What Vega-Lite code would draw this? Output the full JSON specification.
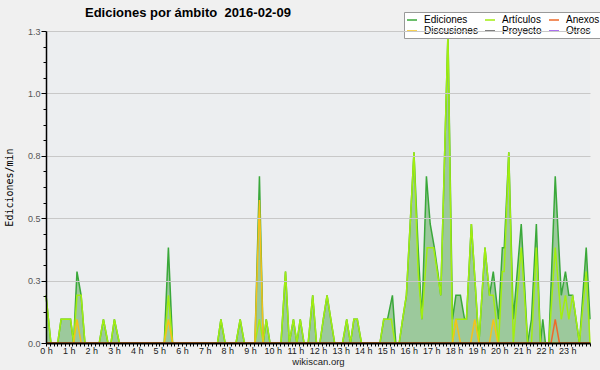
{
  "$schema": "https://vega.github.io/schema/vega-lite/v6.json",
  "width": 544,
  "height": 312,
  "autosize": {"type": "none"},
  "padding": {"left": 46, "top": 31, "right": 10, "bottom": 27},
  "background": "#f0f0f0",
  "title": {"text": "Ediciones por ámbito \u00a02016-02-09", "anchor": "start", "frame": "group", "dx": 39, "offset": -8, "font": "Liberation Sans", "fontSize": 13, "fontWeight": "bold", "color": "#000000"},
  "config": {"view": {"fill": "#eceef0", "stroke": null}},
  "datasets": {
    "main": [
      {"m": 0, "v": 0.191, "s": "Ediciones"}, {"m": 13, "v": 0, "s": "Ediciones"}, {"m": 31, "v": 0, "s": "Ediciones"}, {"m": 40, "v": 0.095, "s": "Ediciones"}, {"m": 65, "v": 0.095, "s": "Ediciones"}, {"m": 73, "v": 0, "s": "Ediciones"}, {"m": 82, "v": 0.286, "s": "Ediciones"}, {"m": 93, "v": 0.191, "s": "Ediciones"}, {"m": 103, "v": 0, "s": "Ediciones"}, {"m": 141, "v": 0, "s": "Ediciones"}, {"m": 152, "v": 0.095, "s": "Ediciones"}, {"m": 164, "v": 0, "s": "Ediciones"}, {"m": 172, "v": 0, "s": "Ediciones"}, {"m": 181, "v": 0.095, "s": "Ediciones"}, {"m": 194, "v": 0, "s": "Ediciones"}, {"m": 313, "v": 0, "s": "Ediciones"}, {"m": 324, "v": 0.382, "s": "Ediciones"}, {"m": 335, "v": 0, "s": "Ediciones"}, {"m": 454, "v": 0, "s": "Ediciones"}, {"m": 463, "v": 0.095, "s": "Ediciones"}, {"m": 474, "v": 0, "s": "Ediciones"}, {"m": 503, "v": 0, "s": "Ediciones"}, {"m": 514, "v": 0.095, "s": "Ediciones"}, {"m": 525, "v": 0, "s": "Ediciones"}, {"m": 553, "v": 0, "s": "Ediciones"}, {"m": 565, "v": 0.668, "s": "Ediciones"}, {"m": 575, "v": 0, "s": "Ediciones"}, {"m": 583, "v": 0.095, "s": "Ediciones"}, {"m": 593, "v": 0, "s": "Ediciones"}, {"m": 622, "v": 0, "s": "Ediciones"}, {"m": 634, "v": 0.286, "s": "Ediciones"}, {"m": 644, "v": 0, "s": "Ediciones"}, {"m": 655, "v": 0.095, "s": "Ediciones"}, {"m": 664, "v": 0, "s": "Ediciones"}, {"m": 673, "v": 0.095, "s": "Ediciones"}, {"m": 683, "v": 0, "s": "Ediciones"}, {"m": 694, "v": 0, "s": "Ediciones"}, {"m": 706, "v": 0.191, "s": "Ediciones"}, {"m": 716, "v": 0, "s": "Ediciones"}, {"m": 725, "v": 0, "s": "Ediciones"}, {"m": 734, "v": 0.095, "s": "Ediciones"}, {"m": 744, "v": 0.191, "s": "Ediciones"}, {"m": 754, "v": 0.095, "s": "Ediciones"}, {"m": 764, "v": 0, "s": "Ediciones"}, {"m": 785, "v": 0, "s": "Ediciones"}, {"m": 796, "v": 0.095, "s": "Ediciones"}, {"m": 806, "v": 0, "s": "Ediciones"}, {"m": 815, "v": 0.095, "s": "Ediciones"}, {"m": 824, "v": 0.095, "s": "Ediciones"}, {"m": 835, "v": 0, "s": "Ediciones"}, {"m": 884, "v": 0, "s": "Ediciones"}, {"m": 894, "v": 0.095, "s": "Ediciones"}, {"m": 904, "v": 0.095, "s": "Ediciones"}, {"m": 917, "v": 0.191, "s": "Ediciones"}, {"m": 926, "v": 0, "s": "Ediciones"}, {"m": 935, "v": 0, "s": "Ediciones"}, {"m": 944, "v": 0.095, "s": "Ediciones"}, {"m": 954, "v": 0.191, "s": "Ediciones"}, {"m": 964, "v": 0.477, "s": "Ediciones"}, {"m": 974, "v": 0.764, "s": "Ediciones"}, {"m": 985, "v": 0.382, "s": "Ediciones"}, {"m": 995, "v": 0.095, "s": "Ediciones"}, {"m": 1007, "v": 0.668, "s": "Ediciones"}, {"m": 1017, "v": 0.477, "s": "Ediciones"}, {"m": 1028, "v": 0.382, "s": "Ediciones"}, {"m": 1037, "v": 0.286, "s": "Ediciones"}, {"m": 1045, "v": 0.191, "s": "Ediciones"}, {"m": 1064, "v": 1.241, "s": "Ediciones"}, {"m": 1076, "v": 0.095, "s": "Ediciones"}, {"m": 1085, "v": 0.191, "s": "Ediciones"}, {"m": 1097, "v": 0.191, "s": "Ediciones"}, {"m": 1108, "v": 0.095, "s": "Ediciones"}, {"m": 1113, "v": 0.095, "s": "Ediciones"}, {"m": 1126, "v": 0.477, "s": "Ediciones"}, {"m": 1146, "v": 0, "s": "Ediciones"}, {"m": 1162, "v": 0.382, "s": "Ediciones"}, {"m": 1174, "v": 0.191, "s": "Ediciones"}, {"m": 1184, "v": 0.286, "s": "Ediciones"}, {"m": 1198, "v": 0.095, "s": "Ediciones"}, {"m": 1208, "v": 0.382, "s": "Ediciones"}, {"m": 1213, "v": 0.382, "s": "Ediciones"}, {"m": 1225, "v": 0.764, "s": "Ediciones"}, {"m": 1237, "v": 0.095, "s": "Ediciones"}, {"m": 1258, "v": 0.477, "s": "Ediciones"}, {"m": 1275, "v": 0, "s": "Ediciones"}, {"m": 1285, "v": 0.095, "s": "Ediciones"}, {"m": 1298, "v": 0.477, "s": "Ediciones"}, {"m": 1309, "v": 0, "s": "Ediciones"}, {"m": 1315, "v": 0.095, "s": "Ediciones"}, {"m": 1322, "v": 0, "s": "Ediciones"}, {"m": 1331, "v": 0, "s": "Ediciones"}, {"m": 1348, "v": 0.668, "s": "Ediciones"}, {"m": 1364, "v": 0.191, "s": "Ediciones"}, {"m": 1375, "v": 0.286, "s": "Ediciones"}, {"m": 1384, "v": 0.191, "s": "Ediciones"}, {"m": 1394, "v": 0.191, "s": "Ediciones"}, {"m": 1412, "v": 0, "s": "Ediciones"}, {"m": 1430, "v": 0.382, "s": "Ediciones"}, {"m": 1440, "v": 0.095, "s": "Ediciones"},

      {"m": 0, "v": 0.191, "s": "Artículos"}, {"m": 13, "v": 0, "s": "Artículos"}, {"m": 31, "v": 0, "s": "Artículos"}, {"m": 40, "v": 0.095, "s": "Artículos"}, {"m": 65, "v": 0.095, "s": "Artículos"}, {"m": 73, "v": 0, "s": "Artículos"}, {"m": 82, "v": 0.191, "s": "Artículos"}, {"m": 93, "v": 0.191, "s": "Artículos"}, {"m": 103, "v": 0, "s": "Artículos"}, {"m": 141, "v": 0, "s": "Artículos"}, {"m": 152, "v": 0.095, "s": "Artículos"}, {"m": 164, "v": 0, "s": "Artículos"}, {"m": 172, "v": 0, "s": "Artículos"}, {"m": 181, "v": 0.095, "s": "Artículos"}, {"m": 194, "v": 0, "s": "Artículos"}, {"m": 313, "v": 0, "s": "Artículos"}, {"m": 324, "v": 0.191, "s": "Artículos"}, {"m": 335, "v": 0, "s": "Artículos"}, {"m": 454, "v": 0, "s": "Artículos"}, {"m": 463, "v": 0.095, "s": "Artículos"}, {"m": 474, "v": 0, "s": "Artículos"}, {"m": 503, "v": 0, "s": "Artículos"}, {"m": 514, "v": 0.095, "s": "Artículos"}, {"m": 525, "v": 0, "s": "Artículos"}, {"m": 553, "v": 0, "s": "Artículos"}, {"m": 565, "v": 0.095, "s": "Artículos"}, {"m": 575, "v": 0, "s": "Artículos"}, {"m": 583, "v": 0.095, "s": "Artículos"}, {"m": 593, "v": 0, "s": "Artículos"}, {"m": 622, "v": 0, "s": "Artículos"}, {"m": 634, "v": 0.286, "s": "Artículos"}, {"m": 644, "v": 0, "s": "Artículos"}, {"m": 655, "v": 0.095, "s": "Artículos"}, {"m": 664, "v": 0, "s": "Artículos"}, {"m": 673, "v": 0.095, "s": "Artículos"}, {"m": 683, "v": 0, "s": "Artículos"}, {"m": 694, "v": 0, "s": "Artículos"}, {"m": 706, "v": 0.191, "s": "Artículos"}, {"m": 716, "v": 0, "s": "Artículos"}, {"m": 725, "v": 0, "s": "Artículos"}, {"m": 734, "v": 0.095, "s": "Artículos"}, {"m": 744, "v": 0.191, "s": "Artículos"}, {"m": 754, "v": 0.095, "s": "Artículos"}, {"m": 764, "v": 0, "s": "Artículos"}, {"m": 785, "v": 0, "s": "Artículos"}, {"m": 796, "v": 0.095, "s": "Artículos"}, {"m": 806, "v": 0, "s": "Artículos"}, {"m": 815, "v": 0.095, "s": "Artículos"}, {"m": 824, "v": 0.095, "s": "Artículos"}, {"m": 835, "v": 0, "s": "Artículos"}, {"m": 884, "v": 0, "s": "Artículos"}, {"m": 894, "v": 0.095, "s": "Artículos"}, {"m": 914, "v": 0.095, "s": "Artículos"}, {"m": 924, "v": 0, "s": "Artículos"}, {"m": 935, "v": 0, "s": "Artículos"}, {"m": 944, "v": 0.095, "s": "Artículos"}, {"m": 954, "v": 0.191, "s": "Artículos"}, {"m": 964, "v": 0.477, "s": "Artículos"}, {"m": 974, "v": 0.764, "s": "Artículos"}, {"m": 985, "v": 0.286, "s": "Artículos"}, {"m": 995, "v": 0.095, "s": "Artículos"}, {"m": 1009, "v": 0.382, "s": "Artículos"}, {"m": 1026, "v": 0.382, "s": "Artículos"}, {"m": 1045, "v": 0.191, "s": "Artículos"}, {"m": 1064, "v": 1.241, "s": "Artículos"}, {"m": 1076, "v": 0, "s": "Artículos"}, {"m": 1085, "v": 0.095, "s": "Artículos"}, {"m": 1097, "v": 0.095, "s": "Artículos"}, {"m": 1108, "v": 0.095, "s": "Artículos"}, {"m": 1113, "v": 0.095, "s": "Artículos"}, {"m": 1126, "v": 0.477, "s": "Artículos"}, {"m": 1146, "v": 0, "s": "Artículos"}, {"m": 1162, "v": 0.382, "s": "Artículos"}, {"m": 1174, "v": 0.191, "s": "Artículos"}, {"m": 1184, "v": 0.191, "s": "Artículos"}, {"m": 1198, "v": 0, "s": "Artículos"}, {"m": 1208, "v": 0.286, "s": "Artículos"}, {"m": 1213, "v": 0.286, "s": "Artículos"}, {"m": 1225, "v": 0.764, "s": "Artículos"}, {"m": 1237, "v": 0, "s": "Artículos"}, {"m": 1258, "v": 0.382, "s": "Artículos"}, {"m": 1275, "v": 0, "s": "Artículos"}, {"m": 1285, "v": 0, "s": "Artículos"}, {"m": 1298, "v": 0.382, "s": "Artículos"}, {"m": 1309, "v": 0, "s": "Artículos"}, {"m": 1331, "v": 0, "s": "Artículos"}, {"m": 1348, "v": 0.382, "s": "Artículos"}, {"m": 1364, "v": 0.095, "s": "Artículos"}, {"m": 1375, "v": 0.191, "s": "Artículos"}, {"m": 1384, "v": 0.095, "s": "Artículos"}, {"m": 1394, "v": 0.191, "s": "Artículos"}, {"m": 1412, "v": 0, "s": "Artículos"}, {"m": 1430, "v": 0.286, "s": "Artículos"}, {"m": 1440, "v": 0, "s": "Artículos"},

      {"m": 0, "v": 0, "s": "Discusiones"}, {"m": 73, "v": 0, "s": "Discusiones"}, {"m": 82, "v": 0.095, "s": "Discusiones"}, {"m": 93, "v": 0, "s": "Discusiones"}, {"m": 313, "v": 0, "s": "Discusiones"}, {"m": 324, "v": 0.095, "s": "Discusiones"}, {"m": 335, "v": 0, "s": "Discusiones"}, {"m": 553, "v": 0, "s": "Discusiones"}, {"m": 565, "v": 0.573, "s": "Discusiones"}, {"m": 575, "v": 0, "s": "Discusiones"}, {"m": 1076, "v": 0, "s": "Discusiones"}, {"m": 1085, "v": 0.095, "s": "Discusiones"}, {"m": 1097, "v": 0, "s": "Discusiones"}, {"m": 1124, "v": 0, "s": "Discusiones"}, {"m": 1135, "v": 0.095, "s": "Discusiones"}, {"m": 1146, "v": 0, "s": "Discusiones"}, {"m": 1174, "v": 0, "s": "Discusiones"}, {"m": 1184, "v": 0.095, "s": "Discusiones"}, {"m": 1196, "v": 0, "s": "Discusiones"}, {"m": 1440, "v": 0, "s": "Discusiones"},

      {"m": 0, "v": 0, "s": "Anexos"}, {"m": 1337, "v": 0, "s": "Anexos"}, {"m": 1348, "v": 0.095, "s": "Anexos"}, {"m": 1359, "v": 0, "s": "Anexos"}, {"m": 1440, "v": 0, "s": "Anexos"}
    ]
  },
  "data": {"name": "main"},
  "encoding": {
    "x": {
      "field": "m", "type": "quantitative",
      "scale": {"domain": [0, 1440], "nice": false, "zero": false},
      "axis": {
        "tickCount": 144, "labelOverlap": false, "labelFlush": false, "grid": false,
        "labelExpr": "datum.value % 60 == 0 && datum.value < 1440 ? (datum.value / 60) + ' h' : ''",
        "domainColor": "#000000", "domainWidth": 2, "tickColor": "#000000", "tickSize": 3, "tickWidth": 1,
        "labelFont": "Liberation Sans", "labelFontSize": 9, "labelColor": "#222222", "labelPadding": 0,
        "title": "wikiscan.org", "titleFont": "Liberation Sans", "titleFontSize": 9.5, "titleFontWeight": "normal", "titleColor": "#222222", "titlePadding": 1,
        "zindex": 1
      }
    },
    "y": {
      "field": "v", "type": "quantitative",
      "scale": {"domain": [0, 1.25], "nice": false},
      "axis": {
        "values": [0, 0.0625, 0.125, 0.1875, 0.25, 0.3125, 0.375, 0.4375, 0.5, 0.5625, 0.625, 0.6875, 0.75, 0.8125, 0.875, 0.9375, 1, 1.0625, 1.125, 1.1875, 1.25],
        "labelExpr": "abs(datum.value * 4 - round(datum.value * 4)) < 0.001 ? format(datum.value, '.1f') : ''",
        "labelOverlap": false, "labelFlush": false,
        "grid": true, "gridColor": "#c8c8c8",
        "gridOpacity": {"condition": {"test": "abs(datum.value * 4 - round(datum.value * 4)) < 0.001 && datum.value > 0", "value": 1}, "value": 0},
        "tickSize": {"condition": {"test": "abs(datum.value * 4 - round(datum.value * 4)) < 0.001", "value": 5}, "value": 3},
        "domainColor": "#000000", "domainWidth": 1.5, "tickColor": "#000000",
        "labelFont": "Liberation Sans", "labelFontSize": 9, "labelColor": "#555555", "labelPadding": 1,
        "title": "Ediciones/min", "titleFont": "DejaVu Sans Mono", "titleFontSize": 10, "titleFontWeight": "normal", "titleColor": "#000000", "titlePadding": 13,
        "zindex": 1
      }
    }
  },
  "layer": [
    {
      "transform": [{"filter": "datum.s == 'Ediciones'"}],
      "mark": {"type": "area", "color": "#9cc99c", "opacity": 1}
    },
    {
      "transform": [{"filter": "datum.s == 'Ediciones'"}],
      "mark": {"type": "line", "strokeWidth": 1.5, "strokeJoin": "miter"},
      "encoding": {
        "color": {
          "field": "s", "type": "nominal",
          "scale": {"domain": ["Ediciones", "Artículos", "Anexos", "Discusiones", "Proyecto", "Otros"], "range": ["#3aa83a", "#a2ee10", "#ee6a2a", "#f5c21a", "#555555", "#9040e8"]},
          "legend": {
            "orient": "none", "legendX": 358, "legendY": -19, "direction": "horizontal", "columns": 3, "gridAlign": "each",
            "title": null, "symbolType": "stroke", "symbolSize": 100, "symbolStrokeWidth": 1.5, "symbolOffset": 0,
            "labelFont": "Liberation Sans", "labelFontSize": 10, "labelColor": "#000000", "labelOffset": 6, "labelLimit": 200,
            "fillColor": "#ffffff", "strokeColor": "#999999", "padding": 2, "rowPadding": -2, "columnPadding": 4
          }
        }
      }
    },
    {
      "transform": [{"filter": "datum.s == 'Artículos'"}],
      "mark": {"type": "line", "strokeWidth": 1.5, "strokeJoin": "miter"},
      "encoding": {"color": {"field": "s", "type": "nominal"}}
    },
    {
      "transform": [{"filter": "datum.s == 'Discusiones'"}],
      "mark": {"type": "line", "strokeWidth": 1.5, "strokeJoin": "miter"},
      "encoding": {"color": {"field": "s", "type": "nominal"}}
    },
    {
      "transform": [{"filter": "datum.s == 'Anexos'"}],
      "mark": {"type": "line", "strokeWidth": 1.5, "strokeJoin": "miter"},
      "encoding": {"color": {"field": "s", "type": "nominal"}}
    },
    {
      "data": {"values": [{"label": "CC BY-SA 3.0"}]},
      "mark": {"type": "text", "align": "right", "baseline": "middle", "font": "Liberation Sans", "fontSize": 7.5, "color": "#333333"},
      "encoding": {
        "x": {"datum": 1440, "type": "quantitative"},
        "y": {"datum": -0.075, "type": "quantitative"},
        "text": {"field": "label"}
      }
    }
  ]
}
